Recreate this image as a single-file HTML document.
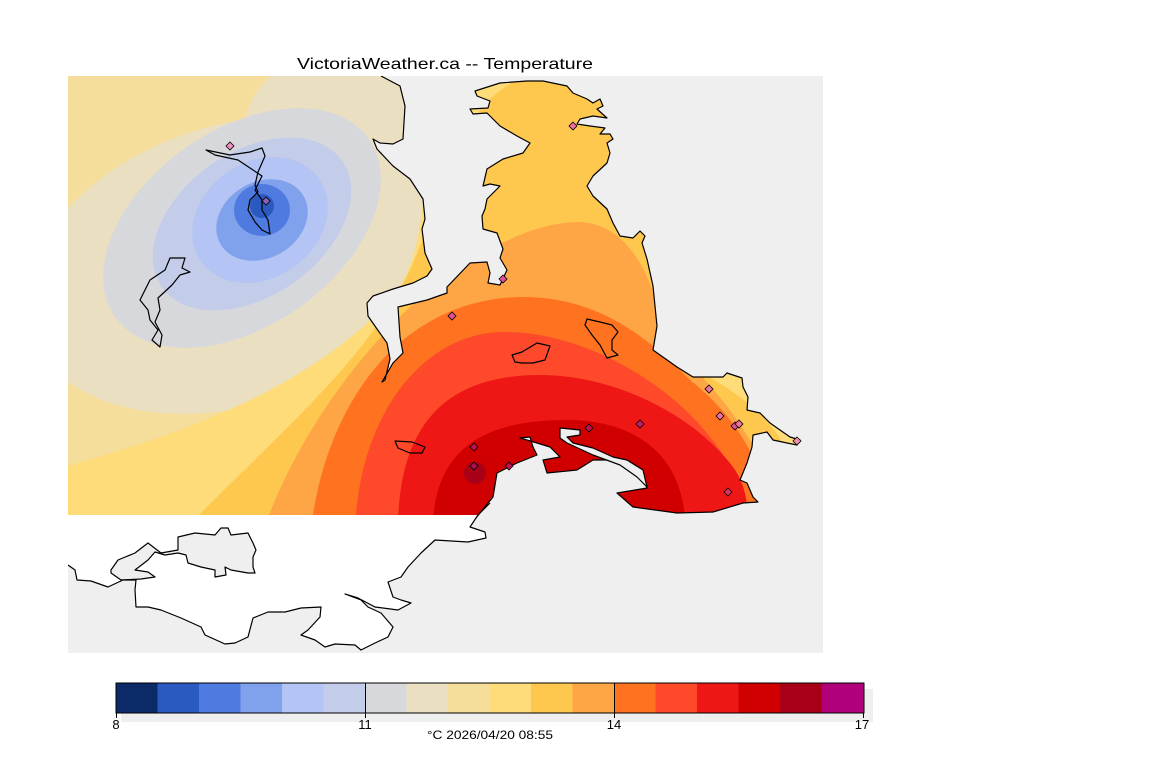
<!DOCTYPE html>
<html><head><meta charset="utf-8"><style>
html,body{margin:0;padding:0;background:#fff;}
svg{display:block;}
text{font-family:"Liberation Sans",sans-serif;}
</style></head><body>
<svg width="1152" height="768" viewBox="0 0 1152 768" xmlns="http://www.w3.org/2000/svg">
<defs>
<clipPath id="fc"><rect x="68" y="76" width="755" height="439"/></clipPath>
<clipPath id="mc"><rect x="68" y="76" width="755" height="577"/></clipPath>
</defs>
<text x="297" y="69" font-size="16" fill="#000" textLength="296" lengthAdjust="spacingAndGlyphs">VictoriaWeather.ca -- Temperature</text>
<rect x="68" y="76" width="755" height="577" fill="#efefef"/>
<g clip-path="url(#fc)">
<rect x="60" y="60" width="800" height="480" fill="#f5dd9c"/>
<ellipse cx="235" cy="265" rx="215" ry="140" transform="rotate(-18 235 265)" fill="#ebdfc1"/>
<ellipse cx="330" cy="130" rx="85" ry="75" fill="#ebdfc1"/>
<ellipse cx="242" cy="228" rx="155" ry="98" transform="rotate(-35 242 228)" fill="#d7d8dc"/>
<ellipse cx="252" cy="224" rx="110" ry="72" transform="rotate(-35 252 224)" fill="#c3cce8"/>
<ellipse cx="260" cy="220" rx="72" ry="58" transform="rotate(-35 260 220)" fill="#b3c4f5"/>
<ellipse cx="262" cy="220" rx="48" ry="38" transform="rotate(-30 262 220)" fill="#80a1ec"/>
<ellipse cx="262" cy="210" rx="28" ry="26" fill="#4f7be0"/>
<circle cx="262" cy="206" r="12" fill="#2a5abf"/>
<path d="M60,468 C200,430 320,380 395,295 C430,245 430,150 415,60 L900,60 L900,540 L60,540 Z" fill="#fedc7a"/>
<path d="M175,540 C280,430 360,370 410,270 C440,200 460,140 480,110 C500,85 530,72 560,60 L700,60 C680,200 675,330 705,375 C760,405 800,440 815,540 Z" fill="#fec84f"/>
<path d="M260,540 C300,420 380,330 440,280 C500,240 540,222 580,222 C620,224 650,260 665,335 C700,380 760,420 790,540 Z" fill="#fea545"/>
<path d="M310,540 C320,420 390,300 520,297 C600,296 650,340 690,380 C740,420 770,470 770,540 Z" fill="#fe7220"/>
<path d="M355,540 C355,420 420,335 500,332 C580,330 660,380 700,425 C740,470 745,500 745,540 Z" fill="#fe4a2b"/>
<path d="M398,540 C395,420 450,375 540,375 C620,375 700,420 735,470 C755,500 745,540 745,540 Z" fill="#ef1616"/>
<path d="M433,540 C430,460 470,422 560,420 C640,418 690,460 685,540 Z" fill="#d00000"/>
<circle cx="475" cy="473" r="11" fill="#a80016"/>
<ellipse cx="614" cy="478" rx="22" ry="16" fill="#a80016"/>
</g>
<g clip-path="url(#mc)" stroke-linejoin="round">
<path fill="#efefef" stroke="none" d="M381,60 L381,76 L400,86 L405,106 L403,139 L393,144 L380,143 L373,139 L377,149 L393,166 L410,179 L423,199 L425,219 L422,229 L425,253 L432,269 L427,276 L413,283 L393,289 L373,296 L367,303 L368,316 L377,329 L387,343 L390,359 L385,380 L382,382 L393,363 L403,353 L400,337 L398,307 L427,300 L447,293 L447,287 L470,263 L487,262 L490,273 L488,283 L500,285 L507,270 L500,258 L503,249 L497,233 L483,229 L482,216 L485,209 L487,199 L500,186 L490,184 L483,186 L487,169 L503,159 L523,153 L530,143 L517,136 L500,126 L493,119 L487,113 L473,114 L470,109 L488,108 L490,101 L477,96 L475,91 L500,83 L527,81 L543,81 L567,86 L573,93 L587,99 L593,103 L600,99 L603,106 L597,109 L607,118 L593,116 L580,119 L577,124 L590,126 L605,128 L600,134 L610,134 L613,139 L607,143 L610,153 L607,163 L593,176 L587,186 L593,196 L607,209 L613,223 L620,236 L633,238 L640,231 L645,236 L642,243 L647,259 L653,286 L657,326 L653,350 L677,367 L693,377 L723,377 L727,373 L742,378 L743,387 L748,397 L747,410 L760,413 L770,423 L780,430 L790,437 L800,440 L797,445 L787,443 L773,440 L767,432 L753,435 L752,447 L747,463 L740,480 L747,483 L753,497 L758,502 L743,503 L713,512 L677,513 L633,507 L617,493 L647,488 L643,477 L633,470 L617,460 L593,460 L577,470 L547,473 L543,460 L560,457 L550,447 L537,443 L520,438 L530,437 L533,447 L537,455 L517,463 L497,473 L493,497 L480,513 L470,525 L470,670 L840,670 L840,60 Z"/>
<path fill="none" stroke="#000" stroke-width="1.2" d="M381,76 L400,86 L405,106 L403,139 L393,144 L380,143 L373,139 L377,149 L393,166 L410,179 L423,199 L425,219 L422,229 L425,253 L432,269 L427,276 L413,283 L393,289 L373,296 L367,303 L368,316 L377,329 L387,343 L390,359 L385,380 L382,382 L393,363 L403,353 L400,337 L398,307 L427,300 L447,293 L447,287 L470,263 L487,262 L490,273 L488,283 L500,285 L507,270 L500,258 L503,249 L497,233 L483,229 L482,216 L485,209 L487,199 L500,186 L490,184 L483,186 L487,169 L503,159 L523,153 L530,143 L517,136 L500,126 L493,119 L487,113 L473,114 L470,109 L488,108 L490,101 L477,96 L475,91 L500,83 L527,81 L543,81 L567,86 L573,93 L587,99 L593,103 L600,99 L603,106 L597,109 L607,118 L593,116 L580,119 L577,124 L590,126 L605,128 L600,134 L610,134 L613,139 L607,143 L610,153 L607,163 L593,176 L587,186 L593,196 L607,209 L613,223 L620,236 L633,238 L640,231 L645,236 L642,243 L647,259 L653,286 L657,326 L653,350 L677,367 L693,377 L723,377 L727,373 L742,378 L743,387 L748,397 L747,410 L760,413 L770,423 L780,430 L790,437 L800,440 L797,445 L787,443 L773,440 L767,432 L753,435 L752,447 L747,463 L740,480 L747,483 L753,497 L758,502 L743,503 L713,512 L677,513 L633,507 L617,493 L647,488 L643,477 L633,470 L617,460 L593,460 L577,470 L547,473 L543,460 L560,457 L550,447 L537,443 L520,438 L530,437 L533,447 L537,455 L517,463 L497,473 L493,497 L480,513 L470,525"/>
<path fill="#efefef" stroke="#000" stroke-width="1.2" d="M560,428 L580,430 L580,435 L567,437 L573,443 L593,448 L613,457 L627,460 L643,470 L647,487 L637,477 L620,465 L593,455 L567,443 L560,438 Z"/>
<path fill="#fff" stroke="none" d="M60,515 L490,515 L478,515 L470,527 L485,532 L486,538 L468,542 L435,540 L421,553 L408,567 L401,577 L388,582 L393,597 L401,600 L411,603 L398,610 L375,607 L358,598 L345,594 L361,600 L368,607 L381,613 L393,627 L388,637 L375,643 L361,650 L355,645 L335,644 L325,647 L315,640 L301,635 L308,630 L320,617 L321,607 L301,608 L285,612 L268,612 L253,618 L248,637 L235,643 L225,644 L205,635 L201,627 L181,618 L161,610 L148,607 L136,607 L135,590 L136,580 L123,580 L108,587 L91,581 L77,580 L75,570 L68,565 L60,565 Z"/>
<path fill="none" stroke="#000" stroke-width="1.2" d="M490,503 L478,515 L470,527 L485,532 L486,538 L468,542 L435,540 L421,553 L408,567 L401,577 L388,582 L393,597 L401,600 L411,603 L398,610 L375,607 L358,598 L345,594 L361,600 L368,607 L381,613 L393,627 L388,637 L375,643 L361,650 L355,645 L335,644 L325,647 L315,640 L301,635 L308,630 L320,617 L321,607 L301,608 L285,612 L268,612 L253,618 L248,637 L235,643 L225,644 L205,635 L201,627 L181,618 L161,610 L148,607 L136,607 L135,590 L136,580 L123,580 L108,587 L91,581 L77,580 L75,570 L68,565"/>
<path fill="#efefef" stroke="#000" stroke-width="1.2" d="M111,570 L118,560 L135,553 L148,543 L161,553 L178,550 L178,537 L195,533 L215,535 L221,528 L228,528 L231,535 L248,533 L253,543 L256,550 L253,557 L253,567 L255,573 L248,573 L231,570 L225,567 L226,575 L215,577 L215,570 L201,567 L188,563 L186,555 L178,553 L165,555 L155,552 L148,560 L135,570 L148,572 L155,577 L141,579 L121,580 L111,573 Z"/>
<g fill="none" stroke="#000" stroke-width="1.2">
<path d="M206,150 L230,155 L250,152 L262,148 L265,156 L258,172 L255,185 L258,192 L250,200 L248,210 L255,222 L262,230 L270,234 L268,220 L262,210 L262,200 L255,190 L262,176 L250,168 L238,160 L215,155 Z"/>
<path d="M185,258 L170,258 L165,270 L150,280 L145,290 L140,300 L148,310 L150,320 L158,330 L152,340 L160,347 L162,335 L155,322 L160,310 L158,298 L172,285 L180,275 L190,272 L182,268 Z"/>
<path d="M587,319 L600,322 L612,325 L618,332 L612,340 L612,350 L618,355 L607,358 L600,345 L592,335 L585,325 Z"/>
<path d="M512,355 L522,352 L537,343 L550,346 L545,360 L533,363 L522,363 L515,362 Z"/>
<path d="M395,441 L412,442 L425,447 L422,453 L410,453 L398,448 Z"/>
</g>
</g>
<g stroke="#000" stroke-width="0.8" fill="#e0509a">
<path d="M230,142 l4,4 l-4,4 l-4,-4 Z" fill="#ef90c0"/>
<path d="M266,197 l4,4 l-4,4 l-4,-4 Z" fill="#9060b0"/>
<path d="M573,122 l4,4 l-4,4 l-4,-4 Z" fill="#f070a0"/>
<path d="M503,275 l4,4 l-4,4 l-4,-4 Z"/>
<path d="M452,312 l4,4 l-4,4 l-4,-4 Z"/>
<path d="M709,385 l4,4 l-4,4 l-4,-4 Z" fill="#f070a0"/>
<path d="M720,412 l4,4 l-4,4 l-4,-4 Z" fill="#f070a0"/>
<path d="M735,422 l4,4 l-4,4 l-4,-4 Z"/>
<path d="M739,420 l4,4 l-4,4 l-4,-4 Z" fill="#f070a0"/>
<path d="M640,420 l4,4 l-4,4 l-4,-4 Z" fill="#c02070"/>
<path d="M589,424 l4,4 l-4,4 l-4,-4 Z" fill="#c01050"/>
<path d="M474,443 l4,4 l-4,4 l-4,-4 Z" fill="#c01050"/>
<path d="M474,462 l4,4 l-4,4 l-4,-4 Z" fill="#b01050"/>
<path d="M509,462 l4,4 l-4,4 l-4,-4 Z" fill="#c01050"/>
<path d="M728,488 l4,4 l-4,4 l-4,-4 Z" fill="#e03060"/>
<path d="M797,437 l4,4 l-4,4 l-4,-4 Z" fill="#f090b0"/>
</g>
<rect x="121" y="689" width="752" height="33" fill="#efefef"/>
<g>
<rect x="116" y="683" width="42" height="30" fill="#0c2a68"/>
<rect x="157.5" y="683" width="42" height="30" fill="#2a5abf"/>
<rect x="199" y="683" width="42" height="30" fill="#4f7be0"/>
<rect x="240.5" y="683" width="42" height="30" fill="#80a1ec"/>
<rect x="282" y="683" width="42" height="30" fill="#b3c4f5"/>
<rect x="323.5" y="683" width="42" height="30" fill="#c3cce8"/>
<rect x="365" y="683" width="42" height="30" fill="#d7d8dc"/>
<rect x="406.5" y="683" width="42" height="30" fill="#ebdfc1"/>
<rect x="448" y="683" width="42" height="30" fill="#f5dd9c"/>
<rect x="489.5" y="683" width="42" height="30" fill="#fedc7a"/>
<rect x="531" y="683" width="42" height="30" fill="#fec84f"/>
<rect x="572.5" y="683" width="42" height="30" fill="#fea545"/>
<rect x="614" y="683" width="42" height="30" fill="#fe7220"/>
<rect x="655.5" y="683" width="42" height="30" fill="#fe4a2b"/>
<rect x="697" y="683" width="42" height="30" fill="#ef1616"/>
<rect x="738.5" y="683" width="42" height="30" fill="#d00000"/>
<rect x="780" y="683" width="42" height="30" fill="#a80016"/>
<rect x="821.5" y="683" width="42.5" height="30" fill="#b0007a"/>
</g>
<rect x="116" y="683" width="748" height="30" fill="none" stroke="#000" stroke-width="1"/>
<g stroke="#000" stroke-width="1">
<line x1="365.5" y1="683" x2="365.5" y2="718"/>
<line x1="614.5" y1="683" x2="614.5" y2="718"/>
<line x1="116.5" y1="713" x2="116.5" y2="718"/>
<line x1="863.5" y1="713" x2="863.5" y2="718"/>
</g>
<g font-size="13" fill="#000" text-anchor="middle">
<text x="116" y="729">8</text>
<text x="365" y="729">11</text>
<text x="614" y="729">14</text>
<text x="862" y="729">17</text>
<text x="490" y="739" font-size="12" textLength="126" lengthAdjust="spacingAndGlyphs">°C  2026/04/20 08:55</text>
</g>
</svg>
</body></html>
